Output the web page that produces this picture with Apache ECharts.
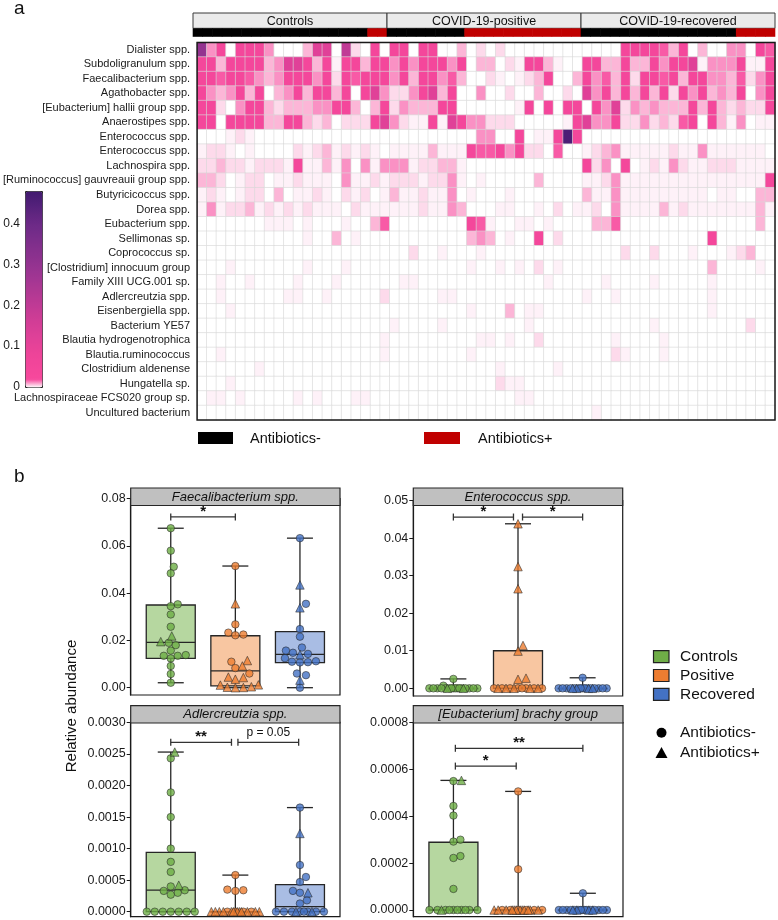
<!DOCTYPE html>
<html><head><meta charset="utf-8">
<script src="https://cdn.jsdelivr.net/npm/echarts@6/dist/echarts.min.js"></script>
<style>html,body{margin:0;padding:0;background:#fff}#c{width:778px;height:920px}</style>
</head><body><div id="c"></div><script>
const FONT = '"Liberation Sans", Arial, Helvetica, sans-serif';

// ---------------- heatmap data ----------------
const taxa = ['Dialister spp.','Subdoligranulum spp.','Faecalibacterium spp.','Agathobacter spp.','[Eubacterium] hallii group spp.','Anaerostipes spp.','Enterococcus spp.','Enterococcus spp.','Lachnospira spp.','[Ruminococcus] gauvreauii group spp.','Butyricicoccus spp.','Dorea spp.','Eubacterium spp.','Sellimonas sp.','Coprococcus sp.','[Clostridium] innocuum group','Family XIII UCG.001 sp.','Adlercreutzia spp.','Eisenbergiella spp.','Bacterium YE57','Blautia hydrogenotrophica','Blautia.ruminococcus','Clostridium aldenense','Hungatella sp.','Lachnospiraceae FCS020 group sp.','Uncultured bacterium'];
const groups = ['Controls','COVID-19-positive','COVID-19-recovered'];
const groupSizes = [20,20,20];
const antibiotics = '00000000000000000011' + '00000000111111111111' + '00000000000000001111';
// abundance read from cell shades (hex digit -> level)
const levelValues = [0, 0.0015, 0.004, 0.008, 0.012, 0.018, 0.04, 0.12, 0.2, 0.3, 0.46];
const heatRows = [
 '94606664000377082060'+'66066003020200000000'+'00006666536030044065',
 '66366663477636166366'+'46466646033021663100'+'66336336466714446116',
 '66566543466646265666'+'46366453002101236003'+'64536266563664435246',
 '64346360346366360674'+'22467360040020030020'+'74636363626463436046',
 '66204663233344663036'+'24333660000001606066'+'06472434333636323226',
 '66066663366323022267'+'42116176442220000016'+'74462242325606314011',
 '00012100000000000000'+'000000000440060116A6'+'00000000000000000000',
 '12210100002123121210'+'11113111655646220500'+'12341111121141111110',
 '22322122216113140414'+'44122331000000000000'+'62406012142112221111',
 '33201220112111041121'+'22212241010000030000'+'11241111111111111116',
 '12101220301121021201'+'31121140100010000000'+'31141111111110110033',
 '14122312121211102111'+'11121143000110010201'+'12041111312111111131',
 '00000001110100010035'+'00000000651001101000'+'03350000000000000030',
 '00000000000100301000'+'00000000343010060200'+'00000000000006000000',
 '00000000000000000000'+'00200100010000000000'+'00002002000100012300',
 '00010000000100010000'+'00000000100101020100'+'00000000000003000010',
 '00100100001000100000'+'01100000000000001000'+'00100001000001000000',
 '00100000011001000002'+'00000110000000000000'+'10010000000001000000',
 '00010000000000000000'+'00000000100030110000'+'00000000000001000000',
 '00000000000000000000'+'10000100000000100000'+'00000001000000000200',
 '00000000000000000001'+'00000000011010020000'+'00010000100000000000',
 '00100000000000000001'+'00000000100000000000'+'00021000100000000000',
 '00000010000000000000'+'00000000000100000100'+'00000000000000000000',
 '00010000000000000000'+'00000000000211000000'+'00000000000000000000',
 '01101000001010001100'+'00000000000001100000'+'00000000000000000000',
 '00000000000000000000'+'00000000000000000000'+'01000000000000000000'
];
const colorbarTicks = [0, 0.1, 0.2, 0.3, 0.4];

// ---------------- boxplot data ----------------
const boxGroups = ['Controls','Positive','Recovered'];
// [min, q1, median, q3, max]
const faecaliStats = [[0.0021,0.0124,0.0192,0.035,0.0675],[0,0.0008,0.0071,0.022,0.0515],[0,0.0106,0.0141,0.0237,0.0633]];
const faecaliNeg = [
 [0.0675,0.058,0.0512,0.0484,0.0353,0.0345,0.031,0.0258,0.019,0.018,0.0157,0.0138,0.0135,0.0124,0.0092,0.0058,0.0021,0.0135],
 [0.0515,0.0268,0.0233,0.0225,0.0222,0.011,0.0083,0.006],
 [0.0633,0.0355,0.0248,0.0216,0.017,0.0157,0.0148,0.0143,0.0125,0.011,0.0108,0.0107,0.0112,0.006,0.0053,0]];
const faecaliPos = [[0.0219,0.0195],[0.0355,0.0115,0.0092,0.0045,0.0043,0.0036,0.0012,0.0011,0.0004,0.0002,0.0001,0],[0.0435,0.0338,0.014,0.0032]];
const faecaliTicks = [0,0.02,0.04,0.06,0.08];
const faecaliSig = [[1,2,0.0723]];
const faecaliSigText = ['*'];

const enteroStats = [[0,0,0,0,0.0025],[0,0,0,0.01,0.0438],[0,0,0,0,0.0028]];
const enteroNeg = [
 [0.0025,0.0007,0,0,0,0,0,0,0,0,0,0,0,0,0,0,0,0],
 [0,0,0,0,0,0,0,0],
 [0.0028,0,0,0,0,0,0,0,0,0,0,0,0,0,0,0]];
const enteroPos = [[0,0],[0.0438,0.0324,0.0265,0.0114,0.0099,0.0027,0.0024,0,0,0,0,0],[0,0,0,0]];
const enteroTicks = [0,0.01,0.02,0.03,0.04,0.05];
const enteroSig = [[1,1.93,0.0456],[2.07,3,0.0456]];
const enteroSigText = ['*','*'];

const adlerStats = [[0,0,0.000343,0.00094,0.00253],[0,0,0,0,0.00058],[0,0,0.00008,0.00043,0.00165]];
const adlerNeg = [
 [0.00243,0.00189,0.0015,0.001,0.00079,0.00063,0.0004,0.00034,0.0003,0.00033,0.00027,0,0,0,0,0,0,0],
 [0.00058,0.00035,0.00034,0.00033,0,0,0,0],
 [0.00165,0.00074,0.00055,0.00047,0.00033,0.0003,0.00018,0.00013,0,0,0,0,0,0,0,0]];
const adlerPos = [[0.00253,0.00042],[0,0,0,0,0,0,0,0,0,0,0,0],[0.00124,0.0003,0,0]];
const adlerTicks = [0,0.0005,0.001,0.0015,0.002,0.0025,0.003];
const adlerSig = [[1,1.94,0.002685],[2.04,2.98,0.002685]];
const adlerSigText = ['**','p = 0.05'];

const brachyStats = [[0,0,0,0.000289,0.000553],[0,0,0,0,0.000506],[0,0,0,0,0.0000714]];
const brachyNeg = [
 [0.00055,0.000444,0.000403,0.000292,0.0003,0.00023,0.000222,0.00009,0,0,0,0,0,0,0,0,0,0],
 [0.000506,0.000174,0,0,0,0,0,0],
 [0.0000714,0,0,0,0,0,0,0,0,0,0,0,0,0,0,0]];
const brachyPos = [[0.000553,0],[0,0,0,0,0,0,0,0,0,0,0,0],[0,0,0,0]];
const brachyTicks = [0,0.0002,0.0004,0.0006,0.0008];
const brachySig = [[1.03,1.97,0.000614],[1.03,3,0.00069]];
const brachySigText = ['*','**'];

// ---------------- styling / layout ----------------
const PT_COLORS = ['#6dae45','#ee7d30','#4472c4'];
const BOX_FILLS = ['#b6d7a0','#f8c6a1','#a9bde4'];
const LEG_COLORS = ['#6fad47','#ed7d31','#4472c4'];
const XMIN = 0.38, XMAX = 3.62;

const panels = [
 {title:'Faecalibacterium spp.', stats:faecaliStats, neg:faecaliNeg, pos:faecaliPos, ticks:faecaliTicks, sig:faecaliSig, sigText:faecaliSigText, dec:2,
  left:130.7, right:340, top:498.7, bottom:695, zeroY:687.7, headTop:488, headBot:505.5},
 {title:'Enterococcus spp.', stats:enteroStats, neg:enteroNeg, pos:enteroPos, ticks:enteroTicks, sig:enteroSig, sigText:enteroSigText, dec:2,
  left:413.3, right:622.7, top:500.5, bottom:696, zeroY:688.3, headTop:488, headBot:505.5},
 {title:'Adlercreutzia spp.', stats:adlerStats, neg:adlerNeg, pos:adlerPos, ticks:adlerTicks, sig:adlerSig, sigText:adlerSigText, dec:4,
  left:130.7, right:340, top:722.4, bottom:916.7, zeroY:911.7, headTop:705.7, headBot:723},
 {title:'[Eubacterium] brachy group', stats:brachyStats, neg:brachyNeg, pos:brachyPos, ticks:brachyTicks, sig:brachySig, sigText:brachySigText, dec:4,
  left:413.3, right:623, top:722.5, bottom:916.7, zeroY:910, headTop:705.7, headBot:723}
];

// colour ramp for the abundance scale
const rampAnchors = [[0,'#ffffff'],[0.02,'#f7489c'],[0.08,'#ee4499'],[0.16,'#d23d96'],[0.28,'#9c3592'],[0.4,'#6c2a87'],[0.48,'#421a70']];
function hex2rgb(h){return [1,3,5].map(i=>parseInt(h.substr(i,2),16));}
function rampAt(v){
  for (let i=1;i<rampAnchors.length;i++){
    if (v<=rampAnchors[i][0]+1e-9){
      const [v0,c0]=rampAnchors[i-1],[v1,c1]=rampAnchors[i];
      const t=(v-v0)/(v1-v0), a=hex2rgb(c0), b=hex2rgb(c1);
      return 'rgb('+a.map((x,k)=>Math.round(x+(b[k]-x)*t)).join(',')+')';
    }
  }
  return rampAnchors[rampAnchors.length-1][1];
}
const CB_MAX = 0.48;
const rampColors = [];
for (let k=0;k<=24;k++) rampColors.push(rampAt(k*0.02));

// ---------------- build heatmap ----------------
const nCols = groupSizes.reduce((a,b)=>a+b,0);
const heatData = [];
heatRows.forEach((row,r)=>{
  if (row.length!==nCols) throw new Error('row '+r+' has '+row.length);
  for (let c=0;c<row.length;c++) heatData.push([c, r, levelValues[parseInt(row[c],16)]]);
});
const colNames = Array.from({length:nCols},(_,i)=>String(i));
const groupSpans = []; {let s=0; groupSizes.forEach(n=>{groupSpans.push([s,s+n-1]); s+=n;});}
const abxData = antibiotics.split('').map((ch,i)=>[i, +ch]);

const grids = [], xAxes = [], yAxes = [], series = [];
// grid 0 heatmap
grids.push({left:193, right:3, top:42.5, height:377.5, show:true, borderColor:'#1a1a1a', borderWidth:1.5, z:5, backgroundColor:'transparent'});
xAxes.push({type:'category', gridIndex:0, data:colNames, show:false});
yAxes.push({type:'category', gridIndex:0, data:taxa, inverse:true, axisLine:{show:false}, axisTick:{show:false},
  axisLabel:{fontSize:11, fontFamily:FONT, color:'#1a1a1a', margin:7}});
series.push({type:'heatmap', xAxisIndex:0, yAxisIndex:0, data:heatData, progressive:0, animation:false,
  itemStyle:{borderColor:'#d6d6d6', borderWidth:0.6}, emphasis:{disabled:true}});
// grid 1 group header
grids.push({left:193, right:3, top:13, height:15.3});
xAxes.push({type:'category', gridIndex:1, data:colNames, show:false});
yAxes.push({type:'value', gridIndex:1, min:0, max:1, show:false});
series.push({type:'custom', xAxisIndex:1, yAxisIndex:1, data:groupSpans, silent:true,
  renderItem:(params, api)=>{
    const bw = api.size([1,0])[0], cs = params.coordSys;
    const x0 = api.coord([api.value(0),0])[0]-bw/2, x1 = api.coord([api.value(1),0])[0]+bw/2;
    return {type:'group', children:[
      {type:'rect', shape:{x:x0, y:cs.y, width:x1-x0, height:cs.height}, style:{fill:'#ebebeb', stroke:'#3a3a3a', lineWidth:1}},
      {type:'text', x:(x0+x1)/2, y:cs.y+cs.height/2+0.5, style:{text:groups[params.dataIndex], fontSize:12.5, fontFamily:FONT, fill:'#111', align:'center', verticalAlign:'middle'}}
    ]};
  }});
// grid 2 antibiotic bar
grids.push({left:193, right:3, top:28.3, height:8.5});
xAxes.push({type:'category', gridIndex:2, data:colNames, show:false});
yAxes.push({type:'value', gridIndex:2, min:0, max:1, show:false});
series.push({type:'custom', xAxisIndex:2, yAxisIndex:2, data:abxData, silent:true,
  renderItem:(params, api)=>{
    const bw = api.size([1,0])[0], cs = params.coordSys;
    const x = api.coord([api.value(0),0])[0]-bw/2;
    return {type:'rect', shape:{x:x-0.3, y:cs.y, width:bw+0.6, height:cs.height}, style:{fill: api.value(1)?'#c00000':'#000000'}};
  }});
// grid 3 colorbar axis
grids.push({left:25, top:191, width:17, height:196});
xAxes.push({type:'value', gridIndex:3, show:false, min:0, max:1});
yAxes.push({type:'value', gridIndex:3, min:0, max:CB_MAX, position:'left', splitLine:{show:false}, axisLine:{show:false},
  axisTick:{show:false},
  axisLabel:{customValues:colorbarTicks, formatter:v=>v===0?'0':String(v), fontSize:12, fontFamily:FONT, color:'#1a1a1a', margin:5}});
yAxes.push({type:'value', gridIndex:3, min:0, max:CB_MAX, position:'right', splitLine:{show:false}, axisLine:{show:false},
  axisLabel:{show:false}, axisTick:{show:true, inside:true, length:3, customValues:colorbarTicks, lineStyle:{color:'#222'}}});

// ---------------- boxplot panels ----------------
function swarm(values, pxPerUnit, d, maxHalf){
  const idx = values.map((v,i)=>i).sort((a,b)=>values[a]-values[b]);
  const placed = [], off = new Array(values.length).fill(0);
  idx.forEach(i=>{
    const y = values[i]*pxPerUnit;
    let best = 0, bestScore = -Infinity, done=false;
    for (let k=0;k<=maxHalf && !done;k++){
      for (const s of (k===0?[1]:[1,-1])){
        const x = s*k;
        let minD = Infinity;
        placed.forEach(p=>{const dd=Math.hypot(p.x-x,p.y-y); if(dd<minD)minD=dd;});
        if (minD>=d){best=x; done=true; break;}
        if (minD>bestScore+0.5){bestScore=minD; best=x;}
      }
    }
    off[i]=best; placed.push({x:best,y});
  });
  return off;
}

panels.forEach((p,pi)=>{
  const gi = grids.length;
  const ymin = -(p.bottom-p.zeroY)/(p.zeroY-p.top)*p.ticks[p.ticks.length-1];
  const ymax = p.ticks[p.ticks.length-1];
  grids.push({left:p.left, top:p.top, width:p.right-p.left, height:p.bottom-p.top, show:true, borderColor:'#1a1a1a', borderWidth:1.2, backgroundColor:'transparent'});
  xAxes.push({type:'value', gridIndex:gi, min:XMIN, max:XMAX, show:false});
  yAxes.push({type:'value', gridIndex:gi, min:ymin, max:ymax, splitLine:{show:false},
    axisLine:{show:true, lineStyle:{color:'#1a1a1a', width:1.2}},
    axisTick:{show:true, length:4, customValues:p.ticks, lineStyle:{color:'#1a1a1a'}},
    axisLabel:{customValues:p.ticks, formatter:v=>v.toFixed(p.dec), fontSize:12.5, fontFamily:FONT, color:'#1a1a1a', margin:5}});
  const yAxisIndex = yAxes.length-1;
  const xAxisIndex = xAxes.length-1;
  // boxes
  series.push({type:'custom', xAxisIndex, yAxisIndex, silent:true, z:2,
    data:p.stats.map((s,g)=>[g+1].concat(s)),
    renderItem:(params, api)=>{
      const x = api.value(0);
      const Y = v=>api.coord([x,v])[1];
      const cx = api.coord([x,0])[0];
      const mn=api.value(1), q1=api.value(2), md=api.value(3), q3=api.value(4), mx=api.value(5);
      const hw=24.5, cw=13, st={stroke:'#262626', lineWidth:1.3};
      return {type:'group', children:[
        {type:'line', shape:{x1:cx,y1:Y(mx),x2:cx,y2:Y(mn)}, style:st},
        {type:'line', shape:{x1:cx-cw,y1:Y(mx),x2:cx+cw,y2:Y(mx)}, style:st},
        {type:'line', shape:{x1:cx-cw,y1:Y(mn),x2:cx+cw,y2:Y(mn)}, style:st},
        {type:'rect', shape:{x:cx-hw, y:Y(q3), width:2*hw, height:Math.max(Y(q1)-Y(q3),0.5)}, style:{fill:BOX_FILLS[x-1], stroke:'#262626', lineWidth:1.3}},
        {type:'line', shape:{x1:cx-hw,y1:Y(md),x2:cx+hw,y2:Y(md)}, style:st}
      ]};
    }});
  // points
  const pxPerY = (p.zeroY-p.top)/ymax;
  const pxPerX = (p.right-p.left)/(XMAX-XMIN);
  const pts = [];
  for (let g=0; g<3; g++){
    const vals = p.neg[g].concat(p.pos[g]);
    const offs = swarm(vals, pxPerY, 7.2, 25);
    vals.forEach((v,i)=>{
      const tri = i>=p.neg[g].length;
      pts.push({value:[g+1+offs[i]/pxPerX, v], symbol: tri?'triangle':'circle', symbolSize: tri?8.5:7.5,
        itemStyle:{color:PT_COLORS[g], borderColor:'#2a2a2a', borderWidth:0.7}});
    });
  }
  series.push({type:'scatter', xAxisIndex, yAxisIndex, data:pts, z:3, silent:true});
  // significance brackets
  series.push({type:'custom', xAxisIndex, yAxisIndex, silent:true, z:4, data:p.sig,
    renderItem:(params, api)=>{
      const a = api.coord([api.value(0), api.value(2)]), b = api.coord([api.value(1), api.value(2)]);
      const t = p.sigText[params.dataIndex], star = t.indexOf('*')===0;
      const st = {stroke:'#333', lineWidth:1.3};
      return {type:'group', children:[
        {type:'line', shape:{x1:a[0],y1:a[1],x2:b[0],y2:b[1]}, style:st},
        {type:'line', shape:{x1:a[0],y1:a[1]-3.5,x2:a[0],y2:a[1]+3.5}, style:st},
        {type:'line', shape:{x1:b[0],y1:b[1]-3.5,x2:b[0],y2:b[1]+3.5}, style:st},
        {type:'text', x:(a[0]+b[0])/2, y: a[1]-(star?5:10), style:{text:t, fontSize: star?15:12, fontWeight: star?'bold':'normal', fontFamily:FONT, fill:'#111', align:'center', verticalAlign:'middle'}}
      ]};
    }});
});

// ---------------- decorations ----------------
const graphic = [
  {type:'text', x:14, y:-1, style:{text:'a', fontSize:19, fontFamily:FONT, fill:'#111'}},
  {type:'text', x:14, y:467, style:{text:'b', fontSize:19, fontFamily:FONT, fill:'#111'}},
  {type:'rect', shape:{x:198, y:432, width:35, height:12}, style:{fill:'#000'}},
  {type:'text', x:250, y:438.5, style:{text:'Antibiotics-', fontSize:14.5, fontFamily:FONT, fill:'#111', verticalAlign:'middle'}},
  {type:'rect', shape:{x:424, y:432, width:36, height:12}, style:{fill:'#c00000'}},
  {type:'text', x:478, y:438.5, style:{text:'Antibiotics+', fontSize:14.5, fontFamily:FONT, fill:'#111', verticalAlign:'middle'}},
  {type:'text', x:72, y:706, rotation:Math.PI/2, style:{text:'Relative abundance', fontSize:15, fontFamily:FONT, fill:'#111', align:'center', verticalAlign:'middle'}}
];
panels.forEach(p=>{
  graphic.push({type:'rect', z:100, shape:{x:p.left, y:p.headTop, width:p.right-p.left, height:p.headBot-p.headTop}, style:{fill:'#c0c0c0', stroke:'#262626', lineWidth:1.2}});
  graphic.push({type:'text', z:101, x:(p.left+p.right)/2, y:(p.headTop+p.headBot)/2+0.5, style:{text:p.title, fontSize:13, fontStyle:'italic', fontFamily:FONT, fill:'#111', align:'center', verticalAlign:'middle'}});
});
boxGroups.forEach((g,i)=>{
  const cy = 656.7 + i*18.8;
  graphic.push({type:'rect', shape:{x:653.5, y:cy-6, width:15.5, height:12}, style:{fill:LEG_COLORS[i], stroke:'#222', lineWidth:1.2}});
  graphic.push({type:'text', x:680, y:cy+0.5, style:{text:g, fontSize:15.5, fontFamily:FONT, fill:'#111', verticalAlign:'middle'}});
});
graphic.push({type:'circle', shape:{cx:661.5, cy:732.7, r:5}, style:{fill:'#000'}});
graphic.push({type:'text', x:680, y:733, style:{text:'Antibiotics-', fontSize:15.5, fontFamily:FONT, fill:'#111', verticalAlign:'middle'}});
graphic.push({type:'polygon', shape:{points:[[661.5,747],[667.5,758],[655.5,758]]}, style:{fill:'#000'}});
graphic.push({type:'text', x:680, y:753, style:{text:'Antibiotics+', fontSize:15.5, fontFamily:FONT, fill:'#111', verticalAlign:'middle'}});

const chart = echarts.init(document.getElementById('c'));
chart.setOption({
  animation:false,
  backgroundColor:'#ffffff',
  textStyle:{fontFamily:FONT},
  grid:grids, xAxis:xAxes, yAxis:yAxes, series,
  visualMap:{type:'continuous', min:0, max:CB_MAX, seriesIndex:0, left:25, top:191, itemWidth:17, itemHeight:196,
    calculable:false, hoverLink:false, padding:0, borderColor:'#222', borderWidth:1, text:null, showLabel:false,
    inRange:{color:rampColors}},
  graphic
});
</script></body></html>
